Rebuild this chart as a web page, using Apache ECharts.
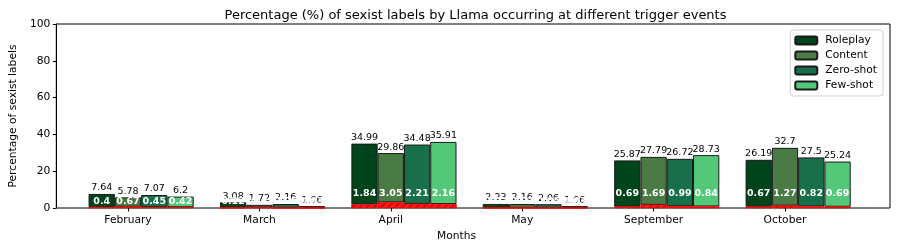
<!DOCTYPE html>
<html><head><meta charset="utf-8">
<script src="https://cdn.jsdelivr.net/npm/echarts@6/dist/echarts.min.js"></script>
<style>html,body{margin:0;padding:0;background:#fff}#c{width:897px;height:249px}</style>
</head><body><div id="c"></div>
<script>
const months = ['February', 'March', 'April', 'May', 'September', 'October'];
const seriesNames = ['Roleplay', 'Content', 'Zero-shot', 'Few-shot'];
const roleplayTotal = [7.64, 3.08, 34.99, 2.23, 25.87, 26.19];
const contentTotal  = [5.78, 1.72, 29.86, 2.16, 27.79, 32.7];
const zeroShotTotal = [7.07, 2.16, 34.48, 2.06, 26.72, 27.5];
const fewShotTotal  = [6.2, 1.06, 35.91, 1.06, 28.73, 25.24];
const roleplayRed = [0.4, 0.12, 1.84, 0.03, 0.69, 0.67];
const contentRed  = [0.67, 0.3, 3.05, 0.07, 1.69, 1.27];
const zeroShotRed = [0.45, 0.05, 2.21, 0.05, 0.99, 0.82];
const fewShotRed  = [0.42, 0.03, 2.16, 0.03, 0.84, 0.69];
const yTicks = [0, 20, 40, 60, 80, 100];

const totals = [roleplayTotal, contentTotal, zeroShotTotal, fewShotTotal];
const reds = [roleplayRed, contentRed, zeroShotRed, fewShotRed];
const colors = ['#00441b', '#4b7b45', '#17704a', '#52c878'];

const W = 897, H = 249;
const plotTop = 24, plotBottom = 41;
const plotH = H - plotTop - plotBottom;
const pxPerUnit = plotH / 100;
const barLeft = 62.3, barRight = 46.3;
const bandPx = (W - barLeft - barRight) / months.length;
const bw = bandPx * 0.2;
const FONT = 'DejaVu Sans';

const common = {type: 'bar', xAxisIndex: 1, yAxisIndex: 1, barWidth: bw, barGap: '0%', barCategoryGap: '0%'};
const series = [Object.assign({}, common, {
  stack: 'pad', silent: true,
  data: months.map(() => 0), itemStyle: {color: 'rgba(0,0,0,0)'}
})];
seriesNames.forEach((name, k) => {
  const tot = totals[k], red = reds[k];
  series.push(Object.assign({}, common, {
    name: 'red' + k, stack: 's' + k,
    itemStyle: {
      color: '#ff1a1a', borderColor: '#ff0000', borderWidth: 0.6,
      decal: {symbol: 'rect', symbolSize: 1, dashArrayX: [1, 0], dashArrayY: [2, 3],
              rotation: -Math.PI / 4, color: 'rgba(150,0,0,0.55)'}
    },
    z: 3,
    data: red.map((r, i) => {
      const center = tot[i] >= 10 ? 8 : 3.5;
      const dist = center * pxPerUnit - 5 - r * pxPerUnit;
      return {value: r, label: {distance: dist}};
    }),
    label: {show: true, position: 'top', color: '#fff', fontWeight: 'bold', fontSize: 9.5,
            fontFamily: FONT, formatter: p => String(red[p.dataIndex])}
  }));
  series.push(Object.assign({}, common, {
    name: name, stack: 's' + k,
    itemStyle: {color: colors[k], borderColor: '#1a1a1a', borderWidth: 1},
    z: 2,
    data: tot.map((t, i) => +(t - red[i]).toFixed(4)),
    label: {show: true, position: 'top', distance: 1, color: '#000', fontSize: 9.5,
            fontFamily: FONT, formatter: p => String(tot[p.dataIndex])}
  }));
});

const chart = echarts.init(document.getElementById('c'), null, {renderer: 'canvas'});
chart.setOption({
  animation: false,
  backgroundColor: '#fff',
  textStyle: {fontFamily: FONT},
  title: {
    text: 'Percentage (%) of sexist labels by Llama occurring at different trigger events',
    left: 470.5, textAlign: 'center', top: 4,
    textStyle: {fontSize: 13, fontWeight: 'normal', color: '#000', fontFamily: FONT}
  },
  legend: {
    data: seriesNames, orient: 'vertical', right: 14, top: 30,
    itemWidth: 22, itemHeight: 8, itemGap: 4,
    padding: [5, 6, 5, 4],
    backgroundColor: 'rgba(255,255,255,0.85)', borderColor: '#d0d0d0', borderWidth: 1, borderRadius: 3,
    textStyle: {fontSize: 10.7, color: '#000', fontFamily: FONT, padding: [0, 0, 0, 3]}
  },
  grid: [
    {left: 51, right: 7, top: plotTop, bottom: plotBottom, show: true,
     borderColor: '#000', borderWidth: 1, backgroundColor: 'rgba(0,0,0,0)'},
    {left: barLeft, right: barRight, top: plotTop, bottom: plotBottom}
  ],
  xAxis: [
    {type: 'value', gridIndex: 0, min: 0, max: 1, show: false},
    {type: 'category', gridIndex: 1, data: months, boundaryGap: true,
     axisLine: {show: false},
     axisTick: {show: true, alignWithLabel: true, length: 3.5, lineStyle: {color: '#000'}},
     axisLabel: {fontSize: 10.7, color: '#000', margin: 7, fontFamily: FONT},
     name: 'Months', nameLocation: 'middle', nameGap: 21,
     nameTextStyle: {fontSize: 10.7, color: '#000', fontFamily: FONT}}
  ],
  yAxis: [
    {type: 'value', gridIndex: 0, min: yTicks[0], max: yTicks[yTicks.length - 1], interval: 20,
     axisLine: {show: true, lineStyle: {color: '#000'}},
     axisTick: {show: true, length: 3.5, lineStyle: {color: '#000'}},
     axisLabel: {fontSize: 10.7, color: '#000', margin: 6, fontFamily: FONT},
     splitLine: {show: false},
     name: 'Percentage of sexist labels', nameLocation: 'middle', nameGap: 33,
     nameTextStyle: {fontSize: 10.7, color: '#000', fontFamily: FONT}},
    {type: 'value', gridIndex: 1, min: 0, max: 100, show: false}
  ],
  series: series
});
</script></body></html>
